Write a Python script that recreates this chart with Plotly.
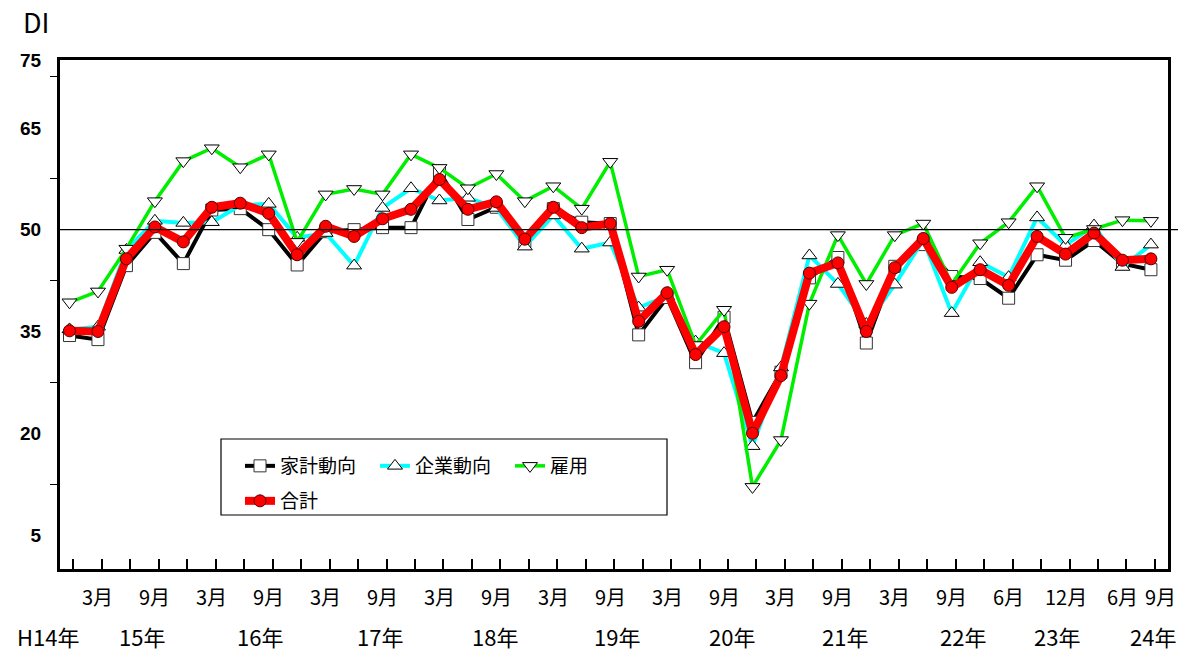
import plotly.graph_objects as go

# ---- data (quarterly survey points, H14 Dec .. H24 Sep) ----
kakei = [34.4, 33.8, 44.7, 49.6, 45.0, 52.9, 53.1, 50.0, 44.8, 49.7,
         50.0, 50.3, 50.3, 58.6, 51.5, 53.3, 48.2, 53.1, 51.1, 50.9,
         34.5, 40.0, 30.4, 37.1, 21.6, 29.0, 42.9, 45.9, 33.3, 44.6,
         47.8, 43.1, 42.8, 39.9, 46.3, 45.5, 48.4, 45.0, 44.1]
kigyo = [35.3, 35.7, 47.0, 51.3, 51.0, 51.1, 53.6, 53.8, 48.8, 49.5,
         44.7, 53.2, 56.1, 54.3, 54.7, 53.2, 47.5, 52.1, 47.2, 48.1,
         38.5, 40.2, 33.5, 31.8, 18.1, 29.7, 46.2, 42.0, 36.1, 41.9,
         48.5, 37.7, 45.2, 43.0, 51.8, 47.7, 50.6, 44.5, 47.8]
koyo = [39.3, 40.9, 47.2, 54.2, 60.1, 62.0, 59.2, 61.1, 48.2, 55.2,
        56.0, 55.2, 61.1, 59.1, 56.1, 58.2, 54.2, 56.4, 53.1, 60.0,
        43.1, 44.1, 33.0, 38.2, 12.1, 19.0, 39.1, 49.2, 42.0, 49.2,
        50.9, 42.0, 48.0, 51.1, 56.4, 48.8, 50.1, 51.4, 51.3]
gokei = [35.1, 35.0, 45.7, 50.4, 48.2, 53.3, 53.9, 52.4, 46.3, 50.5,
         49.0, 51.6, 53.0, 57.4, 53.0, 54.1, 48.6, 53.3, 50.3, 50.9,
         36.5, 40.7, 31.6, 35.7, 20.0, 28.5, 43.6, 45.1, 35.0, 44.4,
         48.7, 41.5, 44.1, 41.8, 49.0, 46.4, 49.5, 45.5, 45.7]

series_names = ["家計動向", "企業動向", "雇用", "合計"]

month_labels = ["3月", "9月", "3月", "9月", "3月", "9月", "3月", "9月",
                "3月", "9月", "3月", "9月", "3月", "9月", "3月", "9月",
                "6月", "12月", "6月", "9月"]
month_pos = [1, 3, 5, 7, 9, 11, 13, 15, 17, 19, 21, 23, 25, 27, 29, 31,
             33, 35, 37, 38.35]

year_labels = ["H14年", "15年", "16年", "17年", "18年", "19年", "20年",
               "21年", "22年", "23年", "24年"]
year_pos = [-0.76, 2.55, 6.69, 10.91, 14.95, 19.24, 23.28, 27.25, 31.39,
            34.7, 38.07]

y_labels = [5, 20, 35, 50, 65, 75]
y_minor = [12.5, 27.5, 42.5, 57.5, 72.5]

x = list(range(len(gokei)))
X_RANGE = [-0.334, 38.6]


def to_paper(v):
    return (v - X_RANGE[0]) / (X_RANGE[1] - X_RANGE[0])


JP = "Noto Sans CJK JP"

fig = go.Figure()
fig.add_trace(go.Scatter(
    x=x, y=kakei, name=series_names[0], mode="lines+markers",
    line=dict(color="black", width=4),
    marker=dict(symbol="square", size=12, color="white",
                line=dict(color="#333333", width=1)),
    legend="legend"))
fig.add_trace(go.Scatter(
    x=x, y=kigyo, name=series_names[1], mode="lines+markers",
    line=dict(color="#00FFFF", width=4),
    marker=dict(symbol="triangle-up", size=13, color="white",
                line=dict(color="black", width=1)),
    legend="legend"))
fig.add_trace(go.Scatter(
    x=x, y=koyo, name=series_names[2], mode="lines+markers",
    line=dict(color="#00EE00", width=3.5),
    marker=dict(symbol="triangle-down", size=13, color="white",
                line=dict(color="black", width=1)),
    legend="legend"))
fig.add_trace(go.Scatter(
    x=x, y=gokei, name=series_names[3], mode="lines+markers",
    line=dict(color="#FF0000", width=8),
    marker=dict(symbol="circle", size=12, color="#FF0000",
                line=dict(color="#550000", width=1)),
    legend="legend2"))

annotations = []
for t, p in zip(month_labels, month_pos):
    annotations.append(dict(x=to_paper(p), y=-0.055, xref="paper",
                            yref="paper", text=t, showarrow=False,
                            xanchor="center", yanchor="middle",
                            font=dict(family=JP, size=20, color="black")))
for t, p in zip(year_labels, year_pos):
    annotations.append(dict(x=to_paper(p), y=-0.131, xref="paper",
                            yref="paper", text=t, showarrow=False,
                            xanchor="center", yanchor="middle",
                            font=dict(family=JP, size=22, color="black")))
annotations.append(dict(x=-0.035, y=1.075, xref="paper", yref="paper",
                        text="DI", showarrow=False, xanchor="left",
                        yanchor="middle",
                        font=dict(family=JP, size=27, color="black")))

shapes = [
    dict(type="line", xref="paper", yref="y", x0=0, x1=1.009, y0=50, y1=50,
         line=dict(color="black", width=1.2)),
    dict(type="rect", xref="paper", yref="paper",
         x0=(221 - 60) / 1108, x1=(667 - 60) / 1108,
         y0=(569 - 515) / 509, y1=(569 - 439) / 509,
         line=dict(color="black", width=1.2), fillcolor="rgba(0,0,0,0)",
         layer="below"),
]

fig.update_layout(
    width=1184, height=651,
    margin=dict(l=60, r=16, t=60, b=82),
    paper_bgcolor="white", plot_bgcolor="white",
    font=dict(family=JP, color="black"),
    showlegend=True,
    legend=dict(orientation="h", x=(240 - 60) / 1108, y=(569 - 447) / 509,
                xanchor="left", yanchor="top", bgcolor="rgba(0,0,0,0)",
                borderwidth=0, entrywidth=90, entrywidthmode="pixels",
                font=dict(family=JP, size=19, color="black"),
                itemclick=False, itemdoubleclick=False),
    legend2=dict(orientation="h", x=(240 - 60) / 1108, y=(569 - 482) / 509,
                 xanchor="left", yanchor="top", bgcolor="rgba(0,0,0,0)",
                 borderwidth=0,
                 font=dict(family=JP, size=19, color="black"),
                 itemclick=False, itemdoubleclick=False),
    xaxis=dict(range=X_RANGE, showgrid=False, zeroline=False,
               showline=True, linecolor="black", linewidth=3, mirror=True,
               tickmode="array", tickvals=[i + 0.14 for i in x],
               ticks="inside", ticklen=10, tickwidth=2, tickcolor="black",
               showticklabels=False),
    yaxis=dict(range=[0, 75], showgrid=False, zeroline=False,
               showline=True, linecolor="black", linewidth=3, mirror=True,
               tickmode="array", tickvals=y_labels,
               ticktext=["<b>%d</b>" % v for v in y_labels], ticks="",
               ticklabelstandoff=12,
               tickfont=dict(family="Liberation Sans", size=19,
                             color="black"),
               minor=dict(tickmode="array", tickvals=y_minor,
                          ticks="outside", ticklen=7, tickwidth=1,
                          tickcolor="black", showgrid=False)),
    annotations=annotations,
    shapes=shapes,
)

fig.write_html("out.html")
